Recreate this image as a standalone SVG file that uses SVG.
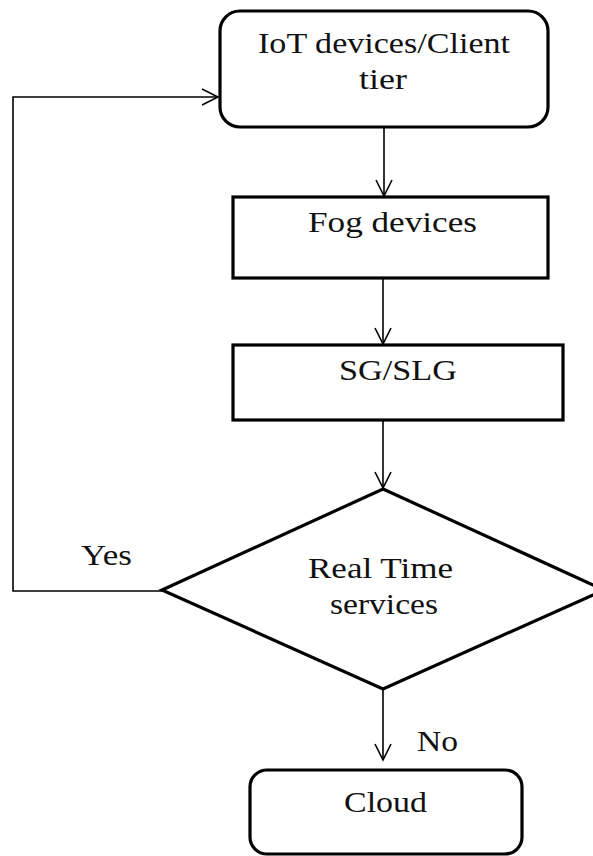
<svg xmlns="http://www.w3.org/2000/svg" width="593" height="856" viewBox="0 0 593 856">
<style>
.box{fill:#fff;stroke:#000;stroke-width:3.2}
.conn{fill:none;stroke:#000;stroke-width:1.6}
text{font-family:"Liberation Serif","Times New Roman",serif;font-size:29px;fill:#111;text-anchor:middle}
</style>
<defs>
<marker id="arr" markerUnits="userSpaceOnUse" markerWidth="22" markerHeight="22" viewBox="-19 -11 22 22" refX="0" refY="0" orient="auto">
<path d="M-16,-8 L0,0 L-16,8" fill="none" stroke="#000" stroke-width="1.6"/>
</marker>
</defs>
<rect width="593" height="856" fill="#fff"/>
<g id="connectors">
<path class="conn" d="M384,127 V196" marker-end="url(#arr)"/>
<path class="conn" d="M383,278 V344" marker-end="url(#arr)"/>
<path class="conn" d="M383,420 V488" marker-end="url(#arr)"/>
<path class="conn" d="M383,689 V760" marker-end="url(#arr)"/>
<path class="conn" d="M162,591 H13 V97 H218" marker-end="url(#arr)"/>
<text x="106.5" y="565" textLength="51" lengthAdjust="spacingAndGlyphs">Yes</text>
<text x="437.5" y="751" textLength="41" lengthAdjust="spacingAndGlyphs">No</text>
</g>
<g id="iot">
<rect class="box" x="220" y="11" width="328" height="116" rx="20" ry="20"/>
<text x="384" y="53" textLength="252" lengthAdjust="spacingAndGlyphs">IoT devices/Client</text>
<text x="383" y="89" textLength="48" lengthAdjust="spacingAndGlyphs">tier</text>
</g>
<g id="fog">
<rect class="box" x="233" y="197" width="315" height="81"/>
<text x="392.5" y="232" textLength="169" lengthAdjust="spacingAndGlyphs">Fog devices</text>
</g>
<g id="sg">
<rect class="box" x="233" y="345" width="330" height="75"/>
<text x="398" y="380" textLength="118" lengthAdjust="spacingAndGlyphs">SG/SLG</text>
</g>
<g id="decision">
<polygon class="box" points="383,489 604,590 383,689 162,590"/>
<text x="380.5" y="578" textLength="145" lengthAdjust="spacingAndGlyphs">Real Time</text>
<text x="384" y="614" textLength="108" lengthAdjust="spacingAndGlyphs">services</text>
</g>
<g id="cloud">
<rect class="box" x="250" y="770" width="272" height="84" rx="17" ry="17"/>
<text x="385.5" y="812" textLength="83" lengthAdjust="spacingAndGlyphs">Cloud</text>
</g>
</svg>
